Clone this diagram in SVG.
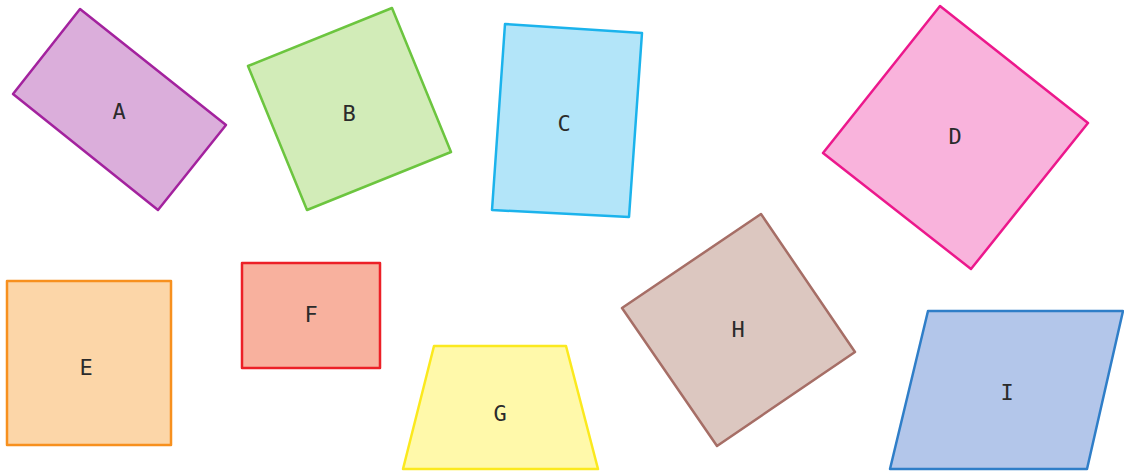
<svg xmlns="http://www.w3.org/2000/svg" width="1124" height="473" viewBox="0 0 1124 473">
<style>
.s{stroke-width:2.5;stroke-linejoin:round}
text{font-family:"DejaVu Sans Mono","Liberation Mono",monospace;font-size:22px;fill:#2b2b2b;text-anchor:middle;dominant-baseline:central}
</style>
<rect width="1124" height="473" fill="#ffffff"/>
<g id="A"><polygon class="s" points="80,9 226,125 158,210 13,94" fill="#dbaedb" stroke="#a3229e"/><text x="119" y="111">A</text></g>
<g id="B"><polygon class="s" points="248,66 392,8 451,152 307,210" fill="#d2ecb8" stroke="#6cc53f"/><text x="349" y="113">B</text></g>
<g id="C"><polygon class="s" points="505,24 642,33 629,217 492,210" fill="#b3e5f9" stroke="#1bb3ec"/><text x="564" y="123">C</text></g>
<g id="D"><polygon class="s" points="940,6 1088,123 971,269 823,153" fill="#f9b3dc" stroke="#ec188c"/><text x="955" y="136">D</text></g>
<g id="E"><rect class="s" x="7" y="281" width="164" height="164" fill="#fcd6a8" stroke="#f7901e"/><text x="86" y="367">E</text></g>
<g id="F"><rect class="s" x="242" y="263" width="138" height="105" fill="#f8b19e" stroke="#ec2027"/><text x="311" y="314">F</text></g>
<g id="G"><polygon class="s" points="434,346 566,346 598,469 403,469" fill="#fff9aa" stroke="#fbe91e"/><text x="500" y="413">G</text></g>
<g id="H"><polygon class="s" points="761,214 855,352 717,446 622,308" fill="#dcc7c0" stroke="#a66e66"/><text x="738" y="329">H</text></g>
<g id="I"><polygon class="s" points="928,311 1123,311 1087,469 890,469" fill="#b3c6ea" stroke="#2f7ec8"/><text x="1007" y="392">I</text></g>
<g id="connectors"/>
</svg>
